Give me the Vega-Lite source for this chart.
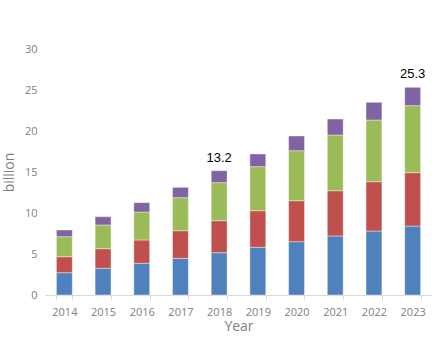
{
  "$schema": "https://vega.github.io/schema/vega-lite/v6.json",
  "width": 387,
  "height": 246,
  "autosize": {"type": "none"},
  "padding": {"left": 45, "top": 49, "right": 8, "bottom": 42},
  "background": "white",
  "config": {"view": {"stroke": null}, "font": "Open Sans"},
  "datasets": {
    "bars": [
      {"year": "2014", "seg": "A", "o": 1, "v": 2.72},
      {"year": "2014", "seg": "B", "o": 2, "v": 1.95},
      {"year": "2014", "seg": "C", "o": 3, "v": 2.44},
      {"year": "2014", "seg": "D", "o": 4, "v": 0.82},
      {"year": "2015", "seg": "A", "o": 1, "v": 3.26},
      {"year": "2015", "seg": "B", "o": 2, "v": 2.39},
      {"year": "2015", "seg": "C", "o": 3, "v": 2.89},
      {"year": "2015", "seg": "D", "o": 4, "v": 1.01},
      {"year": "2016", "seg": "A", "o": 1, "v": 3.87},
      {"year": "2016", "seg": "B", "o": 2, "v": 2.84},
      {"year": "2016", "seg": "C", "o": 3, "v": 3.41},
      {"year": "2016", "seg": "D", "o": 4, "v": 1.14},
      {"year": "2017", "seg": "A", "o": 1, "v": 4.47},
      {"year": "2017", "seg": "B", "o": 2, "v": 3.37},
      {"year": "2017", "seg": "C", "o": 3, "v": 4.03},
      {"year": "2017", "seg": "D", "o": 4, "v": 1.26},
      {"year": "2018", "seg": "A", "o": 1, "v": 5.16},
      {"year": "2018", "seg": "B", "o": 2, "v": 3.9},
      {"year": "2018", "seg": "C", "o": 3, "v": 4.64},
      {"year": "2018", "seg": "D", "o": 4, "v": 1.46},
      {"year": "2019", "seg": "A", "o": 1, "v": 5.82},
      {"year": "2019", "seg": "B", "o": 2, "v": 4.46},
      {"year": "2019", "seg": "C", "o": 3, "v": 5.37},
      {"year": "2019", "seg": "D", "o": 4, "v": 1.55},
      {"year": "2020", "seg": "A", "o": 1, "v": 6.5},
      {"year": "2020", "seg": "B", "o": 2, "v": 5.0},
      {"year": "2020", "seg": "C", "o": 3, "v": 6.1},
      {"year": "2020", "seg": "D", "o": 4, "v": 1.79},
      {"year": "2021", "seg": "A", "o": 1, "v": 7.2},
      {"year": "2021", "seg": "B", "o": 2, "v": 5.52},
      {"year": "2021", "seg": "C", "o": 3, "v": 6.79},
      {"year": "2021", "seg": "D", "o": 4, "v": 1.95},
      {"year": "2022", "seg": "A", "o": 1, "v": 7.8},
      {"year": "2022", "seg": "B", "o": 2, "v": 6.02},
      {"year": "2022", "seg": "C", "o": 3, "v": 7.52},
      {"year": "2022", "seg": "D", "o": 4, "v": 2.16},
      {"year": "2023", "seg": "A", "o": 1, "v": 8.41},
      {"year": "2023", "seg": "B", "o": 2, "v": 6.51},
      {"year": "2023", "seg": "C", "o": 3, "v": 8.17},
      {"year": "2023", "seg": "D", "o": 4, "v": 2.24}
    ],
    "labels": [
      {"year": "2018", "total": 15.16, "label": "13.2"},
      {"year": "2023", "total": 25.33, "label": "25.3"}
    ]
  },
  "encoding": {
    "x": {
      "field": "year",
      "type": "ordinal",
      "scale": {"paddingInner": 0.59, "paddingOuter": 0.295},
      "axis": {
        "title": "Year",
        "labelAngle": 0,
        "labelFontSize": 11,
        "labelColor": "#808080",
        "labelPadding": 6,
        "titleFontSize": 14,
        "titleFontWeight": "normal",
        "titleColor": "#808080",
        "titlePadding": 2,
        "domainColor": "#d9d9d9",
        "tickColor": "#d9d9d9",
        "tickSize": 5,
        "tickBand": "extent"
      }
    }
  },
  "layer": [
    {
      "data": {"name": "bars"},
      "mark": {"type": "bar", "stroke": "white", "strokeWidth": 0.4},
      "encoding": {
        "y": {
          "field": "v",
          "type": "quantitative",
          "stack": "zero",
          "scale": {"domain": [0, 30], "nice": false},
          "axis": {
            "title": "billion",
            "values": [0, 5, 10, 15, 20, 25, 30],
            "grid": false,
            "domain": false,
            "ticks": false,
            "labelFontSize": 11,
            "labelColor": "#808080",
            "labelPadding": 8,
            "titleFontSize": 14,
            "titleFontWeight": "normal",
            "titleColor": "#808080",
            "titlePadding": 8
          }
        },
        "color": {
          "field": "seg",
          "type": "nominal",
          "scale": {"domain": ["A", "B", "C", "D"], "range": ["#4F81BD", "#C0504D", "#9BBB59", "#8064A2"]},
          "legend": null
        },
        "order": {"field": "o", "type": "quantitative"}
      }
    },
    {
      "data": {"name": "labels"},
      "mark": {"type": "text", "baseline": "bottom", "dy": -6, "fontSize": 13, "font": "Liberation Sans", "color": "black"},
      "encoding": {
        "y": {"field": "total", "type": "quantitative"},
        "text": {"field": "label"}
      }
    }
  ]
}
